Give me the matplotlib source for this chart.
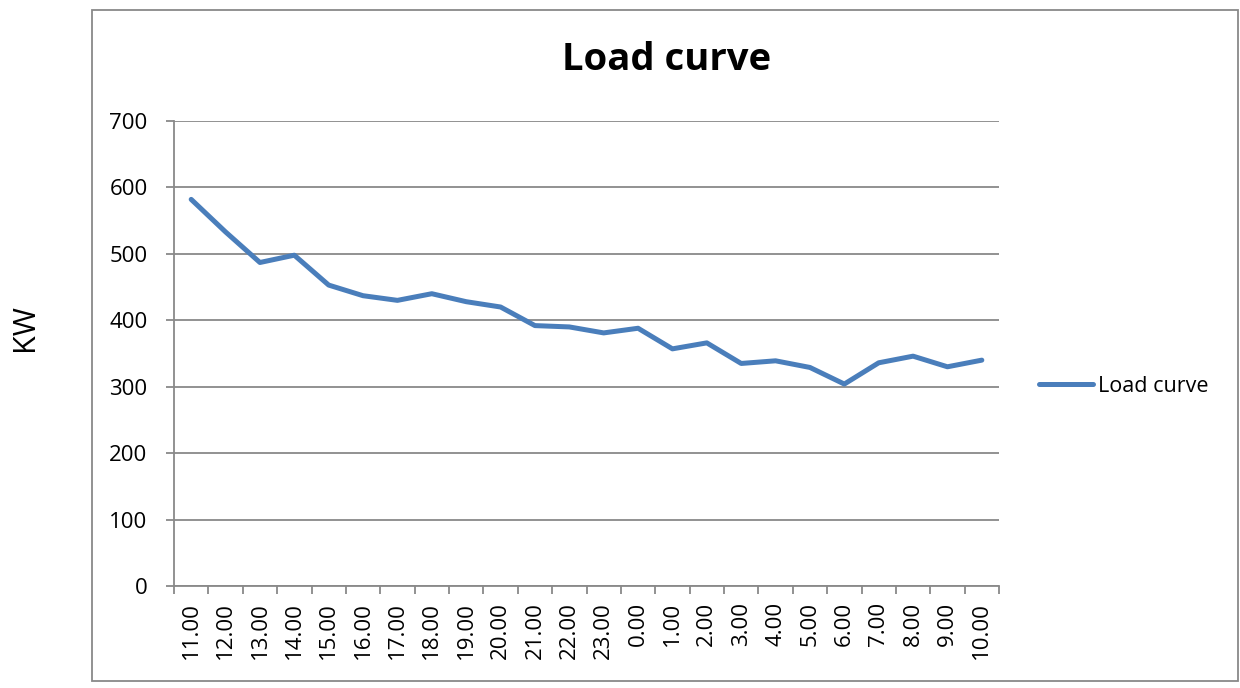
import numpy as np
import matplotlib
matplotlib.use("Agg")
import matplotlib.pyplot as plt
from matplotlib.patches import Rectangle

hours = ["11.00", "12.00", "13.00", "14.00", "15.00", "16.00", "17.00", "18.00",
         "19.00", "20.00", "21.00", "22.00", "23.00", "0.00", "1.00", "2.00",
         "3.00", "4.00", "5.00", "6.00", "7.00", "8.00", "9.00", "10.00"]
load_kw = [582, 533, 487, 498, 453, 437, 430, 440, 428, 420, 392, 390,
           381, 388, 357, 366, 335, 339, 329, 304, 336, 346, 330, 340]

plt.rcParams['font.family'] = ['Open Sans', 'DejaVu Sans']
grid_col = "#898989"
line_col = "#4A7EBB"

fig = plt.figure(figsize=(12.4, 6.88), dpi=100)
ax = fig.add_axes([174 / 1240, 1 - 586 / 688, 825 / 1240, 465 / 688])

x = np.arange(len(hours))
ax.plot(x, load_kw, color=line_col, linewidth=3.6, solid_joinstyle="round",
        solid_capstyle="round", label="Load curve")

ax.set_xlim(-0.5, len(hours) - 0.5)
ax.set_ylim(0, 700)
ax.set_yticks(range(0, 701, 100))
ax.yaxis.grid(True, color=grid_col, linewidth=1.3)
ax.set_axisbelow(True)

# category boundaries get the tick marks, labels sit in the middle
ax.set_xticks(np.arange(-0.5, len(hours), 1.0))
ax.set_xticklabels([])
ax.set_xticks(x, minor=True)
ax.set_xticklabels(hours, minor=True, rotation=90, fontsize=16)
ax.tick_params(axis="x", which="minor", length=0, pad=11.5)
ax.tick_params(axis="x", which="major", length=6, color=grid_col, width=1.3)
ax.tick_params(axis="y", length=6, color=grid_col, width=1.3, labelsize=16, pad=13)

for s in ["top", "right"]:
    ax.spines[s].set_visible(False)
for s in ["left", "bottom"]:
    ax.spines[s].set_color(grid_col)
    ax.spines[s].set_linewidth(1.3)

fig.text(667 / 1240, 1 - 70 / 688, "Load curve", fontsize=27.5, fontweight="bold",
         ha="center", va="baseline")
fig.text(25 / 1240, 1 - 328 / 688, "KW", fontsize=22, rotation=90,
         ha="center", va="center")

leg = ax.legend(loc="center left", bbox_to_anchor=(1020 / 1240, 1 - 386 / 688),
                bbox_transform=fig.transFigure, frameon=False, fontsize=15.5,
                handlelength=2.5, handletextpad=0.2)

fig.patches.append(Rectangle((92 / 1240, 1 - 681 / 688), 1146 / 1240, 671 / 688,
                             transform=fig.transFigure, fill=False,
                             edgecolor=grid_col, linewidth=1.3))

fig.savefig("out.png", dpi=100)
